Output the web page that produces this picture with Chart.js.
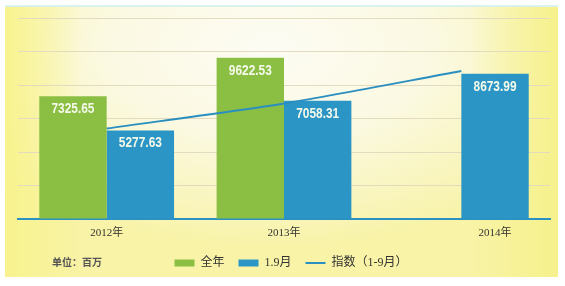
<!DOCTYPE html>
<html>
<head>
<meta charset="utf-8">
<script src="https://cdn.jsdelivr.net/npm/chart.js@4.4.1/dist/chart.umd.min.js"></script>
<style>
  html, body { margin: 0; padding: 0; background: #fff; }
  #wrap { position: relative; width: 565px; height: 286px; }
  #bg {
    position: absolute; left: 5px; top: 5px; width: 553px; height: 272px;
    box-sizing: border-box; border-top: 2px solid #d9f2ee;
    background:
      linear-gradient(to right, #f8f38e 0%, rgba(250,248,200,0) 14%, rgba(250,248,200,0) 84%, #f6f18c 100%),
      radial-gradient(ellipse 65% 75% at 48% 15%, #fdfcf4 0%, #fbf9e2 45%, #f9f5bc 80%, #f8f3a6 100%);
  }
  canvas { position: absolute; left: 0; top: 0; }
</style>
</head>
<body>
<div id="wrap">
  <div id="bg"></div>
  <canvas id="chart" width="565" height="286"></canvas>
</div>
<script>
// values
const categories = ['2012年', '2013年', '2014年'];
const fullYear = [7325.65, 9622.53, null];
const janToSep = [5277.63, 7058.31, 8673.99];
const indexLine = [5400, 6900, 8830];
const seriesNames = ['全年', '1.9月', '指数（1-9月）'];
const unitText = '单位：百万';

const green = '#8bbf44';
const blue = '#2b96c5';
const serifFont = '"Liberation Serif", "Noto Sans CJK SC", serif';

// white numbers inside the top of each bar (squeezed a bit, the original font is narrow)
const valueLabels = {
  id: 'valueLabels',
  afterDatasetsDraw(chart) {
    const ctx = chart.ctx;
    chart.data.datasets.forEach((ds, i) => {
      if (ds.type === 'line') return;
      chart.getDatasetMeta(i).data.forEach((bar, j) => {
        const v = ds.data[j];
        if (v == null) return;
        ctx.save();
        ctx.translate(bar.x, bar.y + 13);
        ctx.scale(0.85, 1);
        ctx.font = 'bold 14px "Liberation Sans", sans-serif';
        ctx.fillStyle = '#f5f9ea';
        ctx.textAlign = 'center';
        ctx.textBaseline = 'middle';
        ctx.fillText(v.toFixed(2), 0, 0);
        ctx.restore();
      });
    });
  }
};

// year labels centred under the bars that exist, plus unit note
const categoryLabels = {
  id: 'categoryLabels',
  afterLayout(chart) {
    // legend sits a little right of centre in the original
    chart.legend.left += 7;
    chart.legend.right += 7;
  },
  afterDraw(chart) {
    const ctx = chart.ctx;
    const bottom = chart.chartArea.bottom;
    ctx.save();
    ctx.font = '11px ' + serifFont;
    ctx.fillStyle = '#333';
    ctx.textAlign = 'center';
    ctx.textBaseline = 'middle';
    categories.forEach((label, j) => {
      let left = Infinity, right = -Infinity;
      chart.data.datasets.forEach((ds, i) => {
        if (ds.type === 'line' || ds.data[j] == null) return;
        const bar = chart.getDatasetMeta(i).data[j];
        left = Math.min(left, bar.x - bar.width / 2);
        right = Math.max(right, bar.x + bar.width / 2);
      });
      ctx.fillText(label, (left + right) / 2, bottom + 14);
    });
    ctx.font = 'bold 10px "Noto Sans CJK SC", sans-serif';
    ctx.fillStyle = '#555';
    ctx.textAlign = 'left';
    ctx.fillText(unitText, 52, 262);
    ctx.restore();
  }
};

new Chart(document.getElementById('chart').getContext('2d'), {
  data: {
    labels: categories,
    datasets: [
      {
        type: 'bar', label: seriesNames[0], data: fullYear,
        backgroundColor: green, borderWidth: 0, pointStyle: 'rect', order: 2
      },
      {
        type: 'bar', label: seriesNames[1], data: janToSep,
        backgroundColor: blue, borderWidth: 0, pointStyle: 'rect', order: 2
      },
      {
        type: 'line', label: seriesNames[2], data: indexLine,
        borderColor: '#2a8fc0', backgroundColor: '#2a8fc0', borderWidth: 2,
        pointRadius: 0, pointStyle: 'line', tension: 0.25, order: 1
      }
    ]
  },
  options: {
    responsive: false,
    animation: false,
    layout: { padding: { left: 18, right: 15, top: 18, bottom: 7 } },
    datasets: {
      bar: { categoryPercentage: 0.76, barPercentage: 1 }
    },
    scales: {
      x: {
        grid: { display: false },
        ticks: { display: false },
        border: { display: true, color: '#2a91c2', width: 2 },
        afterFit(axis) { axis.height = 24; }
      },
      y: {
        min: 0, max: 12000,
        ticks: { display: false, stepSize: 2000 },
        grid: { color: '#e2dbbd', lineWidth: 1, drawTicks: false },
        border: { display: false }
      }
    },
    plugins: {
      legend: {
        position: 'bottom',
        labels: {
          usePointStyle: true,
          pointStyleWidth: 20,
          boxHeight: 7,
          padding: 14,
          color: '#333',
          font: { size: 12, family: serifFont },
          sort: (a, b) => a.datasetIndex - b.datasetIndex
        }
      },
      tooltip: { enabled: false }
    }
  },
  plugins: [valueLabels, categoryLabels]
});
</script>
</body>
</html>
